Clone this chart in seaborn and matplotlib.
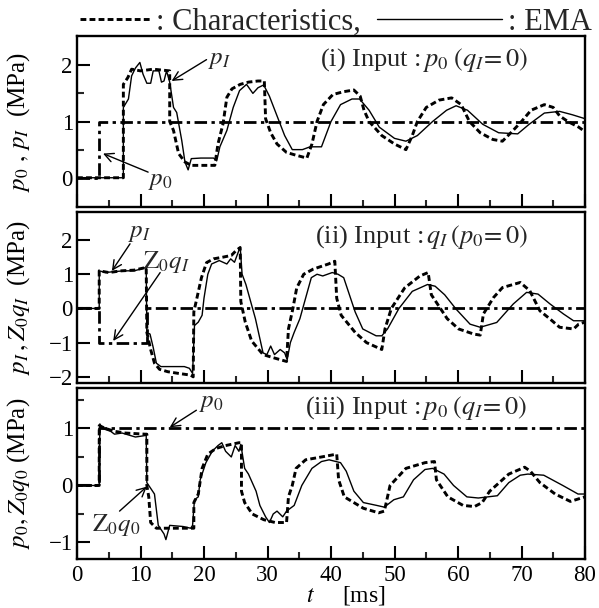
import matplotlib
matplotlib.use("Agg")
import matplotlib.pyplot as plt
import pandas as pd
import seaborn as sns

sns.set_theme(style="ticks")
plt.rcParams["font.family"] = ["Liberation Serif", "DejaVu Serif"]
plt.rcParams["mathtext.fontset"] = "stix"

# ---- data: (t [ms], value [MPa]) ----
# (i) input p0, q_I = 0
p0_input_i = [(0, 0), (3.5, 0), (3.5, 1), (80, 1)]
pI_char_i = [(0, 0), (7.3, 0), (7.3, 1.66), (8.0, 1.78), (8.6, 1.93), (10.0, 1.9), (12.0, 1.93),
             (14.6, 1.9), (14.6, 1.0), (15.2, 0.84), (16.0, 0.43), (17.0, 0.28), (18.0, 0.22),
             (20.0, 0.22), (21.7, 0.22), (22.2, 0.6), (23.0, 0.96), (23.6, 1.43), (24.4, 1.58),
             (25.7, 1.66), (27.0, 1.7), (28.5, 1.72), (29.5, 1.72), (29.7, 1.05), (30.5, 0.8),
             (31.5, 0.6), (33.0, 0.45), (34.5, 0.4), (36.2, 0.35), (37.0, 0.6), (37.8, 1.0),
             (38.8, 1.3), (40.3, 1.48), (42.0, 1.53), (43.6, 1.56), (44.6, 1.45), (45.2, 1.2),
             (46.0, 1.0), (48.0, 0.75), (50.0, 0.6), (51.8, 0.5), (52.8, 0.75), (53.6, 1.0),
             (55.0, 1.25), (57.0, 1.38), (59.0, 1.42), (60.5, 1.3), (61.8, 1.0), (63.5, 0.8),
             (65.5, 0.68), (67.0, 0.65), (68.5, 0.82), (70.0, 1.0), (71.5, 1.2), (73.6, 1.3),
             (75.0, 1.25), (76.0, 1.1), (77.3, 1.0), (79.0, 0.9), (80.0, 0.82)]
pI_ema_i = [(0, 0), (7.3, 0), (7.3, 1.25), (8.1, 1.4), (8.6, 1.81), (9.2, 1.95), (9.9, 2.05),
            (10.4, 1.84), (11.0, 1.68), (11.6, 1.68), (12.0, 1.9), (12.9, 1.9), (13.3, 1.7),
            (13.7, 1.72), (14.1, 1.9), (14.6, 1.7), (15.2, 1.25), (15.7, 1.16), (16.5, 0.66),
            (17.0, 0.28), (17.5, 0.14), (18.0, 0.34), (19.5, 0.35), (21.5, 0.35), (22.0, 0.3),
            (22.5, 0.55), (23.6, 0.84), (24.6, 1.25), (25.6, 1.55), (26.7, 1.66), (27.7, 1.5),
            (28.5, 1.6), (29.4, 1.65), (30.3, 1.45), (31.5, 1.1), (32.7, 0.75), (33.9, 0.5),
            (35.5, 0.5), (36.7, 0.55), (38.5, 0.55), (40.0, 1.0), (41.5, 1.3), (43.3, 1.4),
            (44.5, 1.4), (46.0, 1.2), (47.6, 0.9), (50.0, 0.7), (51.8, 0.65), (53.6, 0.75),
            (56.0, 1.0), (58.2, 1.2), (59.7, 1.28), (61.5, 1.2), (63.9, 0.95), (66.4, 0.8),
            (69.4, 0.78), (71.2, 0.95), (73.6, 1.15), (76.0, 1.18), (78.0, 1.12), (80.0, 1.05)]

# (ii) input q_I, p0 = 0
z0qI_input_ii = [(0, 0), (3.5, 0), (3.5, -1), (11.0, -1), (11.0, 0), (80, 0)]
pI_char_ii = [(0, 0), (3.5, 0), (3.5, 1.1), (5.0, 1.05), (7.0, 1.1), (9.0, 1.12), (10.9, 1.2),
              (11.0, -0.7), (11.6, -1.2), (12.2, -1.6), (13.0, -1.78), (14.3, -1.85),
              (16.0, -1.9), (17.9, -1.95), (18.3, -2.0), (18.4, -0.1), (19.0, 0.4), (19.6, 0.9),
              (20.4, 1.34), (21.5, 1.45), (23.0, 1.5), (24.3, 1.55), (25.1, 1.7), (25.7, 1.78),
              (25.8, 0.2), (26.5, -0.4), (27.5, -0.95), (29.3, -1.35), (31.1, -1.45),
              (33.0, -1.55), (33.3, -0.6), (34.0, 0.0), (34.6, 0.6), (35.7, 1.0), (37.2, 1.15),
              (39.6, 1.3), (40.6, 1.38), (40.9, 0.3), (41.6, -0.2), (43.8, -0.7), (45.6, -1.0),
              (47.4, -1.15), (48.0, -1.2), (48.5, -0.6), (49.5, 0.0), (51.6, 0.6), (54.0, 0.95),
              (55.3, 1.05), (55.8, 0.4), (58.3, -0.3), (60.1, -0.6), (62.5, -0.75),
              (63.5, -0.78), (64.0, -0.16), (65.6, 0.32), (67.0, 0.61), (69.8, 0.76),
              (71.3, 0.52), (72.9, -0.07), (74.5, -0.31), (76.0, -0.55), (78.2, -0.6),
              (79.0, -0.46), (80.0, -0.4)]
pI_ema_ii = [(0, 0), (3.5, 0), (3.5, 1.1), (4.5, 1.05), (6.0, 1.08), (7.5, 1.1), (9.0, 1.1),
             (10.0, 1.15), (10.9, 1.2), (11.0, -0.7), (11.5, -0.75), (12.0, -1.14),
             (12.5, -1.6), (13.2, -1.7), (14.8, -1.7), (16.9, -1.7), (17.7, -1.75),
             (18.2, -1.9), (18.5, -0.5), (19.1, -0.4), (19.7, -0.2), (20.0, 0.3), (20.6, 1.0),
             (21.2, 1.3), (22.4, 1.4), (23.6, 1.3), (24.2, 1.45), (24.8, 1.35), (25.7, 1.8),
             (26.0, 1.0), (26.6, 0.7), (27.2, 0.3), (28.1, -0.3), (28.7, -0.8), (29.3, -1.3),
             (29.9, -1.35), (30.5, -1.1), (31.1, -1.35), (32.0, -1.2), (32.7, -1.3),
             (33.1, -1.5), (33.6, -1.0), (34.2, -0.7), (35.1, -0.3), (36.0, 0.3), (36.9, 0.9),
             (37.8, 1.0), (38.7, 0.95), (40.2, 1.05), (41.1, 1.0), (42.0, 0.9), (42.9, 0.4),
             (43.8, -0.1), (45.0, -0.6), (47.1, -0.8), (48.0, -0.8), (48.9, -0.6), (50.7, 0.0),
             (52.8, 0.5), (55.2, 0.7), (56.4, 0.65), (57.9, 0.4), (59.7, -0.02),
             (61.9, -0.46), (63.5, -0.55), (66.1, -0.41), (68.7, 0.13), (70.8, 0.47),
             (72.6, 0.42), (74.5, 0.13), (76.6, -0.16), (78.2, -0.36), (80.0, -0.36)]

# (iii) input p0, q_I = 0
p0_input_iii = [(0, 0), (3.5, 0), (3.5, 1), (80, 1)]
z0q0_char_iii = [(0, 0), (3.5, 0), (3.5, 1.05), (4.5, 1.0), (5.9, 0.95), (7.6, 0.92),
                 (10.7, 0.9), (11.0, 0.9), (11.0, 0.0), (11.3, -0.2), (11.6, -0.65),
                 (12.5, -0.75), (14.3, -0.75), (17.9, -0.75), (18.4, -0.75), (18.4, -0.3),
                 (19.1, -0.15), (19.7, 0.3), (20.6, 0.55), (21.9, 0.65), (23.4, 0.7),
                 (25.5, 0.75), (25.9, 0.75), (25.9, -0.1), (26.4, -0.3), (27.6, -0.5),
                 (29.4, -0.6), (31.2, -0.65), (33.0, -0.65), (33.3, -0.2), (33.9, 0.0),
                 (34.5, 0.3), (36.0, 0.45), (38.5, 0.5), (40.9, 0.55), (41.2, 0.1),
                 (42.1, -0.2), (45.1, -0.4), (47.5, -0.48), (48.4, -0.45), (49.3, 0.0),
                 (51.8, 0.3), (54.8, 0.4), (56.3, 0.42), (56.6, 0.1), (58.4, -0.2),
                 (60.8, -0.35), (62.6, -0.37), (63.8, -0.3), (65.0, -0.1), (68.0, 0.2),
                 (70.5, 0.32), (71.4, 0.25), (72.9, 0.05), (75.3, -0.15), (77.7, -0.28),
                 (80.0, -0.2)]
z0q0_ema_iii = [(0, 0), (3.5, 0), (3.6, 1.08), (4.0, 1.0), (5.3, 0.95), (5.9, 0.9), (7.1, 0.92),
                (8.3, 0.88), (9.2, 0.85), (10.4, 0.87), (10.9, 0.88), (11.0, 0.05), (11.3, 0.0),
                (11.9, -0.1), (12.2, -0.15), (12.8, -0.7), (13.1, -0.75), (13.7, -0.85),
                (14.0, -0.95), (14.6, -0.7), (16.7, -0.72), (17.9, -0.75), (18.2, -0.7),
                (18.5, -0.25), (19.1, -0.2), (19.4, 0.1), (20.3, 0.4), (21.3, 0.6), (22.2, 0.7),
                (22.8, 0.75), (23.4, 0.6), (24.3, 0.5), (24.9, 0.7), (25.5, 0.6), (25.8, 0.72),
                (26.4, 0.3), (27.0, 0.2), (28.2, -0.1), (28.8, -0.35), (29.7, -0.55),
                (30.3, -0.65), (30.9, -0.5), (31.5, -0.45), (32.4, -0.55), (33.0, -0.45),
                (34.2, -0.35), (35.4, 0.0), (37.0, 0.3), (38.5, 0.42), (39.7, 0.45),
                (41.5, 0.4), (42.4, 0.25), (43.6, -0.1), (45.1, -0.3), (47.2, -0.35),
                (48.4, -0.38), (49.9, -0.25), (51.4, -0.2), (53.0, 0.1), (54.8, 0.28),
                (56.0, 0.3), (57.8, 0.2), (59.3, 0.0), (61.4, -0.2), (63.2, -0.22),
                (66.2, -0.18), (68.0, 0.05), (69.8, 0.18), (71.0, 0.2), (73.5, 0.18),
                (76.5, 0.0), (78.9, -0.15), (80.0, -0.15)]

x_ticks = [0, 10, 20, 30, 40, 50, 60, 70, 80]
y_limits = [(-0.52, 2.52), (-2.18, 2.82), (-1.29, 1.71)]
y_major = [[0, 1, 2], [-2, -1, 0, 1, 2], [-1, 0, 1]]
y_minor = [[0.5, 1.5], [], [-0.5, 0.5, 1.5]]
y_labels = [r"$p_0\ ,\,p_I$  (MPa)", r"$p_I\,,Z_0q_I$  (MPa)", r"$p_0,Z_0q_0$ (MPa)"]
titles = [r"(i) Input :$\,p_0\;(q_I\!=0)$", r"(ii) Input :$\,q_I\,(p_0\!=0)$",
          r"(iii) Input :$\,p_0\;(q_I\!=0)$"]

FS_TICK = 16.5
FS_TEXT = 19
FS_KEY = 22
DASH_CHAR = (0, (2.0, 1.1))
DASH_DOT = (0, (4.5, 1.6, 1.2, 1.6))

W, H = 599, 608
fig = plt.figure(figsize=(W / 100, H / 100), dpi=100)


def frame(top, bottom):
    return [77 / W, 1 - bottom / H, (585 - 77) / W, (bottom - top) / H]


axes = [fig.add_axes(frame(36, 207)), fig.add_axes(frame(212, 383)), fig.add_axes(frame(388, 559))]
series = [(p0_input_i, pI_char_i, pI_ema_i),
          (z0qI_input_ii, pI_char_ii, pI_ema_ii),
          (p0_input_iii, z0q0_char_iii, z0q0_ema_iii)]

for k, (ax, (inp, chars, ema)) in enumerate(zip(axes, series)):
    for pts, ls, lw in ((inp, DASH_DOT, 2.0), (chars, DASH_CHAR, 2.1), (ema, "-", 1.0)):
        df = pd.DataFrame(pts, columns=["t", "v"])
        sns.lineplot(data=df, x="t", y="v", ax=ax, estimator=None, sort=False,
                     color="black", linestyle=ls, linewidth=lw)
    ax.set_xlim(0, 80)
    ax.set_ylim(*y_limits[k])
    ax.set_xticks(x_ticks)
    ax.set_xticks([5, 15, 25, 35, 45, 55, 65, 75], minor=True)
    ax.set_yticks(y_major[k])
    ax.set_yticks(y_minor[k], minor=True)
    ax.tick_params(which="major", direction="in", length=9.5, width=1.5, labelsize=FS_TICK,
                   pad=3, colors="black")
    ax.tick_params(which="minor", direction="in", length=5, width=1.5)
    ax.tick_params(axis="x", pad=4)
    for s in ax.spines.values():
        s.set_linewidth(1.7)
        s.set_color("black")
    ax.set_ylabel(y_labels[k], fontsize=18, color="black")
    ax.yaxis.set_label_coords(-0.088, 0.5)
    ax.set_xlabel("")
    if k < 2:
        ax.tick_params(axis="x", labelbottom=False)
    ax.text(71, {0: 2.1, 1: 2.1, 2: 1.36}[k], titles[k], fontsize=FS_TEXT, ha="right",
            va="center")

axes[2].set_xlabel(r"$t$     [ms]", fontsize=17, color="black")
axes[2].xaxis.set_label_coords(0.53, -0.148)

arrow = dict(arrowstyle="->", lw=1.0, color="black", shrinkA=0, shrinkB=0, mutation_scale=16)
ann = [
    (0, r"$p_I$", (22.5, 2.1), (20.4, 2.1), (14.9, 1.72)),
    (0, r"$p_0$", (13.2, -0.05), (11.2, 0.1), (4.1, 0.43)),
    (1, r"$p_I$", (9.8, 2.22), (8.35, 1.89), (5.5, 1.1)),
    (1, r"$\mathrm{Z}_0q_I$", (14.0, 1.35), (13.1, 1.05), (5.7, -0.95)),
    (2, r"$p_0$", (21.2, 1.45), (18.8, 1.32), (14.6, 1.02)),
    (2, r"$\mathrm{Z}_0q_0$", (6.2, -0.7), (6.7, -0.45), (11.0, -0.02)),
]
for k, label, tpos, start, end in ann:
    axes[k].text(*tpos, label, fontsize=18, ha="center", va="center")
    axes[k].annotate("", xy=end, xytext=start, arrowprops=arrow)

# key above the top panel: dashed = characteristics, solid = EMA
key_y = 1 - 22 / H
fig.legend([axes[0].lines[1]], [": Characteristics,"], loc="center left",
           bbox_to_anchor=(80 / W, key_y), frameon=False, fontsize=FS_KEY,
           handlelength=2.3, handletextpad=0.2, borderpad=0, borderaxespad=0)
fig.legend([axes[0].lines[2]], [": EMA"], loc="center right",
           bbox_to_anchor=(592 / W, key_y), frameon=False, fontsize=FS_KEY,
           handlelength=4.1, handletextpad=0.2, borderpad=0, borderaxespad=0)

fig.savefig("out.png", dpi=100)
